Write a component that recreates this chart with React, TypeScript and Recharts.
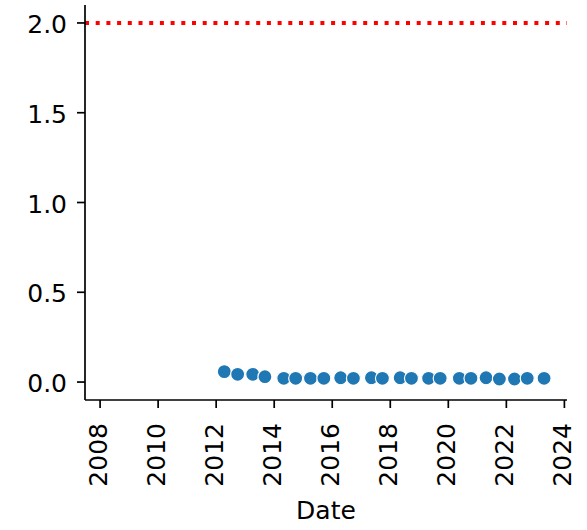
import React from 'react';
import { ScatterChart, Scatter, XAxis, YAxis, ReferenceLine, Label } from 'recharts';

const dates = [
  2012.28, 2012.74, 2013.26, 2013.68, 2014.33, 2014.74, 2015.25, 2015.71,
  2016.29, 2016.73, 2017.35, 2017.73, 2018.34, 2018.73, 2019.32, 2019.72,
  2020.38, 2020.78, 2021.30, 2021.76, 2022.28, 2022.72, 2023.30,
];
const values = [
  0.058, 0.043, 0.043, 0.030, 0.021, 0.021, 0.021, 0.021,
  0.024, 0.021, 0.024, 0.021, 0.024, 0.021, 0.021, 0.021,
  0.021, 0.021, 0.024, 0.017, 0.017, 0.021, 0.021,
];
const xTicks = [2008, 2010, 2012, 2014, 2016, 2018, 2020, 2022, 2024];
const yTicks = [0, 0.5, 1.0, 1.5, 2.0];
const threshold = 2.0;

const data = dates.map((d, i) => ({ date: d, value: values[i] }));

const FONT = 'DejaVu Sans';
const FS = 25;

const XTick = (props: any) => {
  const { x, y, payload } = props;
  const ax = x;
  const ay = y + 15;
  return (
    <text
      x={ax}
      y={ay}
      dy={6.5}
      transform={`rotate(-90, ${ax}, ${ay})`}
      textAnchor="end"
      fontFamily={FONT}
      fontSize={FS}
      fill="#000"
    >
      {String(payload.value)}
    </text>
  );
};

const YTick = (props: any) => {
  const { x, y, payload } = props;
  return (
    <text x={x - 10} y={y + 10} textAnchor="end" fontFamily={FONT} fontSize={FS} fill="#000">
      {Number(payload.value).toFixed(1)}
    </text>
  );
};

const Dot = (props: any) => {
  const { cx, cy } = props;
  if (cx == null || cy == null) return null;
  return <circle cx={cx} cy={cy} r={7} fill="#1f77b4" stroke="#ffffff" strokeWidth={1.2} />;
};

export default function App() {
  return (
    <div style={{ position: 'absolute', left: 0, top: 0, width: 587, height: 530, background: '#fff' }}>
      <ScatterChart width={587} height={530} margin={{ top: 5, right: 20, left: 0, bottom: 0 }}>
        <XAxis
          type="number"
          dataKey="date"
          domain={[2007.48, 2024.09]}
          ticks={xTicks}
          allowDataOverflow
          height={130}
          tickSize={8}
          tickMargin={0}
          axisLine={{ stroke: '#000', strokeWidth: 1.7 }}
          tickLine={{ stroke: '#000', strokeWidth: 1.7 }}
          tick={<XTick />}
          interval={0}
        >
          <Label
            content={(p: any) => {
              const vb = p.viewBox || {};
              return (
                <text
                  x={vb.x + vb.width / 2}
                  y={vb.y + vb.height - 11}
                  textAnchor="middle"
                  fontFamily={FONT}
                  fontSize={FS}
                  fill="#000"
                >
                  Date
                </text>
              );
            }}
          />
        </XAxis>
        <YAxis
          type="number"
          dataKey="value"
          domain={[-0.1, 2.1]}
          ticks={yTicks}
          allowDataOverflow
          width={85}
          tickSize={8}
          tickMargin={0}
          axisLine={{ stroke: '#000', strokeWidth: 1.7 }}
          tickLine={{ stroke: '#000', strokeWidth: 1.7 }}
          tick={<YTick />}
          interval={0}
        />
        <ReferenceLine
          y={threshold}
          stroke="#ff0000"
          strokeWidth={4}
          strokeDasharray="4 6.7"
          ifOverflow="visible"
        />
        <Scatter data={data} shape={<Dot />} isAnimationActive={false} />
      </ScatterChart>
    </div>
  );
}
